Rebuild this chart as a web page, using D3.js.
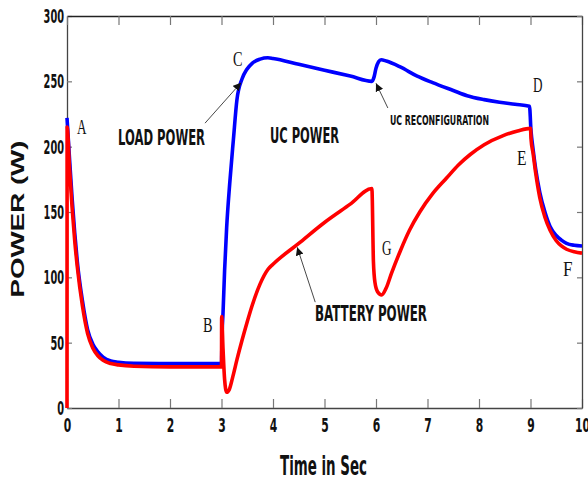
<!DOCTYPE html>
<html>
<head>
<meta charset="utf-8">
<title>Power vs time</title>
<script src="https://d3js.org/d3.v7.min.js"></script>
<style>
  body { margin: 0; background: #fff; }
  svg { display: block; }
</style>
</head>
<body>
<div id="chart"></div>
<script>
// load power (blue) - time in s, power in W
var loadT = [0, 0.05, 0.1, 0.15, 0.2, 0.3, 0.4, 0.5, 0.6, 0.7, 0.85, 1.0, 1.3, 2.0, 3.0,
  3.01, 3.03, 3.06, 3.1, 3.16, 3.23, 3.3, 3.4, 3.49, 3.6, 3.75, 3.9, 4.0, 4.5, 5.0, 5.5, 5.92,
  5.96, 6.0, 6.05, 6.1, 6.2, 6.47, 6.8, 7.1, 7.5, 7.77, 8.1, 8.4, 8.7, 8.98,
  9.01, 9.05, 9.1, 9.18, 9.28, 9.38, 9.5, 9.6, 9.7, 9.85, 10];
var loadP = [222, 190, 160, 134, 112, 82, 60, 49, 43, 39, 36, 35, 34.2, 34, 34,
  55, 73, 105, 138, 172, 205, 236, 252, 259, 264, 267, 268, 267.5, 263, 258.5, 254, 250,
  253, 260, 265, 266.5, 265.5, 261, 254, 249, 243, 239, 236, 234, 232.5, 231,
  212, 198, 183, 165, 150, 139, 132, 128.5, 126, 124.5, 124];

// battery power (red)
var battT = [0, 0.002, 0.05, 0.1, 0.15, 0.2, 0.3, 0.4, 0.5, 0.6, 0.7, 0.85, 1.0, 1.3, 2.0, 3.0,
  3.003, 3.03, 3.06, 3.1, 3.15, 3.22, 3.3, 3.4, 3.5, 3.6, 3.75, 3.9, 4.0, 4.5, 5.0, 5.5, 5.92,
  5.95, 5.98, 6.03, 6.11, 6.2, 6.3, 6.47, 6.65, 6.85, 7.1, 7.37, 7.6, 7.83, 8.1, 8.47, 8.75, 9.0,
  9.01, 9.05, 9.1, 9.18, 9.28, 9.38, 9.5, 9.6, 9.7, 9.85, 10];
var battP = [0, 215, 183, 153, 128, 108, 78, 57, 46, 40, 36.5, 34, 33, 32, 31.5, 31.5,
  70, 45, 22, 12, 14, 24, 37, 52, 66, 79, 95, 106, 110, 126, 142, 156, 168,
  112, 96, 89, 86.5, 92, 103, 120, 136, 150, 164, 176, 186, 194, 201.5, 208.5, 212, 214,
  206, 195, 180, 161, 146, 136, 128, 124, 121.5, 119.5, 118.5];

var xTicks = [0, 1, 2, 3, 4, 5, 6, 7, 8, 9, 10];
var yTicks = [0, 50, 100, 150, 200, 250, 300];
var xTitle = "Time in Sec";
var yTitle = "POWER (W)";
var pointNames = ["A", "B", "C", "D", "E", "F", "G"];
var noteNames = ["LOAD POWER", "UC POWER", "UC RECONFIGURATION", "BATTERY POWER"];

var narrow = "'Liberation Sans Narrow','Arial Narrow','DejaVu Sans Condensed',sans-serif";
var serif = "'Liberation Serif','Times New Roman',serif";

var W = 588, H = 479,
  marg = { top: 16, right: 6, bottom: 71, left: 67 };

var svg = d3.select("#chart").append("svg")
  .attr("width", W).attr("height", H);

svg.append("rect").attr("width", W).attr("height", H).attr("fill", "#fff");

var x = d3.scaleLinear().domain([0, 10]).range([marg.left, W - marg.right]);
var y = d3.scaleLinear().domain([0, 300]).range([H - marg.bottom, marg.top]);

// axes (ticks inside, box on)
var gx = svg.append("g").attr("transform", "translate(0," + y(0) + ")")
  .call(d3.axisBottom(x).tickValues(xTicks).tickSizeInner(-9).tickSizeOuter(0).tickPadding(10));
var gy = svg.append("g").attr("transform", "translate(" + x(0) + ",0)")
  .call(d3.axisLeft(y).tickValues(yTicks).tickSizeInner(-5).tickSizeOuter(0).tickPadding(3));
var gt = svg.append("g").attr("transform", "translate(0," + y(300) + ")")
  .call(d3.axisTop(x).tickValues(xTicks).tickSizeInner(-9).tickSizeOuter(0).tickFormat(""));
var gr = svg.append("g").attr("transform", "translate(" + x(10) + ",0)")
  .call(d3.axisRight(y).tickValues(yTicks).tickSizeInner(-5).tickSizeOuter(0).tickFormat(""));

[gx, gy, gt, gr].forEach(function(g) {
  g.select(".domain").attr("stroke", "#444").attr("stroke-width", 1.3);
  g.selectAll(".tick line").attr("stroke", "#777").attr("stroke-width", 1.2);
});
gt.select(".domain").attr("stroke", "#222");

gx.selectAll(".tick text")
  .attr("font-family", narrow).attr("font-weight", "bold").attr("font-size", 20)
  .attr("fill", "#111")
  .attr("textLength", function(d) { return String(d).length * 7.5; })
  .attr("lengthAdjust", "spacingAndGlyphs");
gy.selectAll(".tick text")
  .attr("font-family", narrow).attr("font-weight", "bold").attr("font-size", 20)
  .attr("fill", "#111")
  .attr("textLength", function(d) { return String(d).length * 6.8; })
  .attr("lengthAdjust", "spacingAndGlyphs");

// titles
svg.append("text")
  .attr("x", 280).attr("y", 475)
  .attr("font-family", narrow).attr("font-weight", "bold").attr("font-size", 26)
  .attr("fill", "#111")
  .attr("textLength", 87).attr("lengthAdjust", "spacingAndGlyphs")
  .text(xTitle);

svg.append("text")
  .attr("transform", "translate(24,219) rotate(-90)")
  .attr("text-anchor", "middle")
  .attr("font-family", "'Liberation Sans',Arial,sans-serif").attr("font-weight", "bold")
  .attr("font-size", 19).attr("fill", "#111")
  .attr("textLength", 157).attr("lengthAdjust", "spacingAndGlyphs")
  .text(yTitle);

// curves
var line = d3.line()
  .x(function(d) { return x(d[0]); })
  .y(function(d) { return y(d[1]); })
  .curve(d3.curveMonotoneX);

var loadData = loadT.map(function(t, i) { return [t, loadP[i]]; });
var battData = battT.map(function(t, i) { return [t, battP[i]]; });

svg.append("path").datum(loadData)
  .attr("d", line).attr("fill", "none")
  .attr("stroke", "#0000ff").attr("stroke-width", 3.6)
  .attr("stroke-linejoin", "round");
svg.append("path").datum(battData)
  .attr("d", line).attr("fill", "none")
  .attr("stroke", "#ff0000").attr("stroke-width", 3.6)
  .attr("stroke-linejoin", "round");

// arrows
svg.append("defs").append("marker")
  .attr("id", "head").attr("viewBox", "0 0 10 10")
  .attr("refX", 10).attr("refY", 5)
  .attr("markerWidth", 8).attr("markerHeight", 8)
  .attr("markerUnits", "userSpaceOnUse")
  .attr("orient", "auto")
  .append("path").attr("d", "M0,0 L10,5 L0,10 z").attr("fill", "#111");

var arrows = [
  [2.68, 218, 3.38, 249],
  [6.23, 229.6, 6.0, 248.5],
  [4.82, 81, 4.47, 123]
];
svg.selectAll(".arrow").data(arrows).enter().append("line")
  .attr("class", "arrow")
  .attr("x1", function(d) { return x(d[0]); })
  .attr("y1", function(d) { return y(d[1]); })
  .attr("x2", function(d) { return x(d[2]); })
  .attr("y2", function(d) { return y(d[3]); })
  .attr("stroke", "#333").attr("stroke-width", 0.9)
  .attr("marker-end", "url(#head)");

// text notes
var notes = [
  { text: noteNames[0], x: 118, y: 145, size: 21, len: 87 },
  { text: noteNames[1], x: 270, y: 143, size: 21, len: 69 },
  { text: noteNames[2], x: 390, y: 125, size: 14, len: 99 },
  { text: noteNames[3], x: 315, y: 321, size: 21, len: 112 }
];
svg.selectAll(".note").data(notes).enter().append("text")
  .attr("class", "note")
  .attr("x", function(d) { return d.x; })
  .attr("y", function(d) { return d.y; })
  .attr("font-family", narrow).attr("font-weight", "bold")
  .attr("font-size", function(d) { return d.size; })
  .attr("fill", "#111")
  .attr("textLength", function(d) { return d.len; })
  .attr("lengthAdjust", "spacingAndGlyphs")
  .text(function(d) { return d.text; });

// point letters
var letters = [
  { text: pointNames[0], x: 77, y: 134 },
  { text: pointNames[1], x: 203, y: 332 },
  { text: pointNames[2], x: 233, y: 66 },
  { text: pointNames[3], x: 533, y: 92 },
  { text: pointNames[4], x: 517, y: 165 },
  { text: pointNames[5], x: 563, y: 276 },
  { text: pointNames[6], x: 382, y: 255 }
];
svg.selectAll(".letter").data(letters).enter().append("text")
  .attr("class", "letter")
  .attr("x", function(d) { return d.x; })
  .attr("y", function(d) { return d.y; })
  .attr("font-family", serif).attr("font-size", 22)
  .attr("fill", "#111")
  .attr("textLength", 9.5).attr("lengthAdjust", "spacingAndGlyphs")
  .text(function(d) { return d.text; });
</script>
</body>
</html>
